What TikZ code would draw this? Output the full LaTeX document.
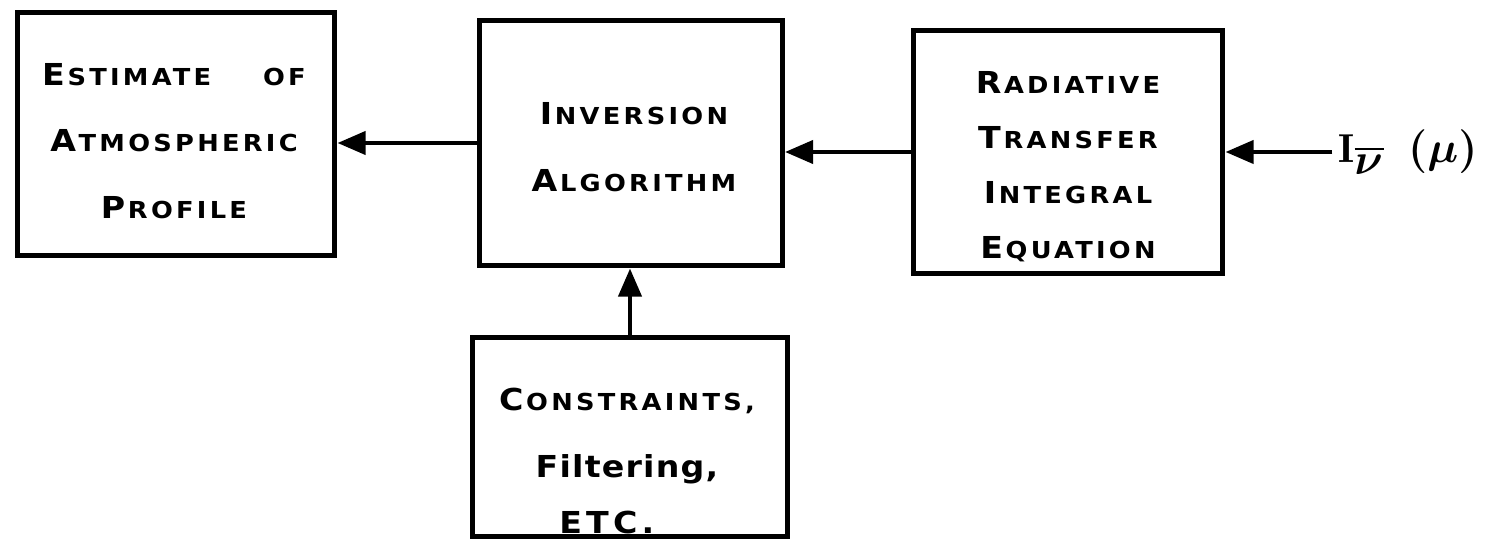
\documentclass[tikz,border=0pt]{standalone}
\usepackage{amsmath}
\usepackage{fontspec}
\newfontfamily\lettering[FakeStretch=1.1,LetterSpace=14]{DejaVu Sans}
\newcommand{\lcap}[2]{#1\kern1.5pt{\fontsize{13.3}{38}\selectfont #2}}
\usetikzlibrary{arrows.meta}

\begin{document}
\begin{tikzpicture}[x=0.02cm, y=-0.02cm,
        blok/.style={draw, line width=2.85pt, inner sep=0pt},
        lettr/.style={inner sep=0pt, align=center,
            font={\lettering\bfseries\fontsize{17.2}{38}\selectfont}},
        arr/.style={line width=2.6pt, -{Triangle[length=16pt, width=13pt]}}]
        \useasboundingbox (0,0) rectangle (1501,543);
        \node[blok, minimum width=6.36cm, minimum height=4.88cm] (estimate) at (176,134) {};
        \node[blok, minimum width=6.06cm, minimum height=4.92cm] (inversion) at (631,143) {};
        \node[blok, minimum width=6.2cm, minimum height=4.86cm] (transfer) at (1068,152) {};
        \node[blok, minimum width=6.3cm, minimum height=4.0cm] (constraints) at (630,437) {};
        \node[lettr] (estimatetxt) at (174,141)
            {\lcap{E}{STIMATE}\hspace{28pt}\lcap{}{OF}\\\lcap{A}{TMOSPHERIC}\\\lcap{P}{ROFILE}};
        \node[lettr] (inversiontxt) at (634,147)
            {\lcap{I}{NVERSION}\\\lcap{A}{LGORITHM}};
        \node[lettr, font={\lettering\bfseries\fontsize{17.2}{31.3}\selectfont}] (transfertxt) at (1068,167)
            {\lcap{R}{ADIATIVE}\\\lcap{T}{RANSFER}\\\lcap{I}{NTEGRAL}\\\lcap{E}{QUATION}};
        \node[lettr] (constraintstxt) at (627,461)
            {\lcap{C}{ONSTRAINTS,}\\{\addfontfeature{LetterSpace=4}Filtering,}\\[-6pt]ETC.\kern23pt};
        \node[font={\fontsize{23}{27}\selectfont\boldmath}] (radiance) at (1408,152)
            {$\mathrm{I}_{\textstyle\overline{\nu}}\ \ (\mu)$};
        \draw[arr] (inversion.west) -- (inversion.west -| estimate.east);
        \draw[arr] (transfer.west) -- (transfer.west -| inversion.east);
        \draw[arr] (radiance.west) -- (radiance.west -| transfer.east);
        \draw[arr] (constraints.north) -- (constraints.north |- inversion.south);
    \end{tikzpicture}
\end{document}
